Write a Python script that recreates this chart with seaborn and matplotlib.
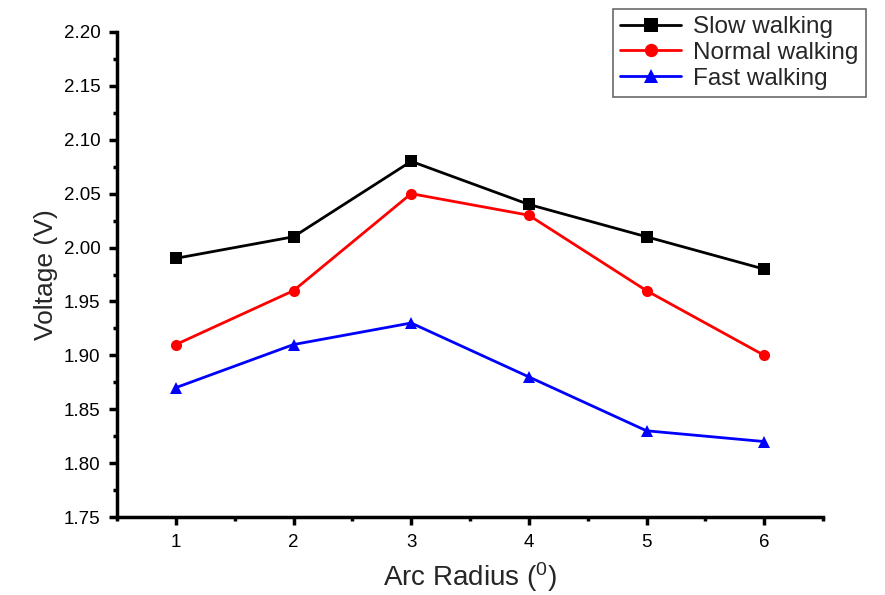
import matplotlib
matplotlib.use("Agg")
import matplotlib.pyplot as plt
import seaborn as sns
import pandas as pd
from matplotlib.ticker import MultipleLocator

arc_radius = [1, 2, 3, 4, 5, 6]
slow_walking = [1.99, 2.01, 2.08, 2.04, 2.01, 1.98]
normal_walking = [1.91, 1.96, 2.05, 2.03, 1.96, 1.90]
fast_walking = [1.87, 1.91, 1.93, 1.88, 1.83, 1.82]
series_names = ["Slow walking", "Normal walking", "Fast walking"]

df = pd.DataFrame({
    "x": arc_radius * 3,
    "y": slow_walking + normal_walking + fast_walking,
    "series": [series_names[0]] * 6 + [series_names[1]] * 6 + [series_names[2]] * 6,
})

sns.set_style("ticks")
plt.rcParams["font.family"] = ["Liberation Sans", "DejaVu Sans"]
plt.rcParams["mathtext.default"] = "regular"

fig = plt.figure(figsize=(8.85, 5.95), dpi=100)
ax = fig.add_axes([117 / 885, 1 - 517 / 595, (823 - 117) / 885, (517 - 32) / 595])

sns.lineplot(
    data=df, x="x", y="y", hue="series", style="series",
    palette={series_names[0]: "black", series_names[1]: "red", series_names[2]: "blue"},
    markers={series_names[0]: "s", series_names[1]: "o", series_names[2]: "^"},
    dashes=False, linewidth=2, markersize=8, markeredgewidth=0,
    ax=ax,
)

ax.set_xlim(0.5, 6.5)
ax.set_ylim(1.75, 2.20)
ax.xaxis.set_major_locator(MultipleLocator(1))
ax.xaxis.set_minor_locator(MultipleLocator(0.5))
ax.yaxis.set_major_locator(MultipleLocator(0.05))
ax.yaxis.set_minor_locator(MultipleLocator(0.025))
ax.yaxis.set_major_formatter(matplotlib.ticker.FormatStrFormatter("%.2f"))

for s in ["top", "right"]:
    ax.spines[s].set_visible(False)
for s in ["left", "bottom"]:
    ax.spines[s].set_linewidth(2.5)
    ax.spines[s].set_color("black")

ax.tick_params(which="major", direction="out", length=6, width=2.5, labelsize=13.5, colors="black", pad=6)
ax.tick_params(which="minor", direction="out", length=3, width=2.5, colors="black")

ax.set_xlabel("Arc Radius ($^{0}$)", fontsize=20, labelpad=7)
ax.set_ylabel("Voltage (V)", fontsize=19, labelpad=4)

ax.get_legend().remove()
handles, labels = ax.get_legend_handles_labels()
leg = fig.legend(
    handles, labels, loc="upper left", bbox_to_anchor=(613 / 885, 1 - 9 / 595),
    bbox_transform=fig.transFigure, fontsize=17.5, frameon=True, fancybox=False,
    handlelength=2.5, handletextpad=0.5, labelspacing=0.15, borderpad=0.3,
    borderaxespad=0.0, markerscale=1.2,
)
leg.get_frame().set_edgecolor("#444444")
leg.get_frame().set_linewidth(1.2)

fig.savefig("out.png", dpi=100)
